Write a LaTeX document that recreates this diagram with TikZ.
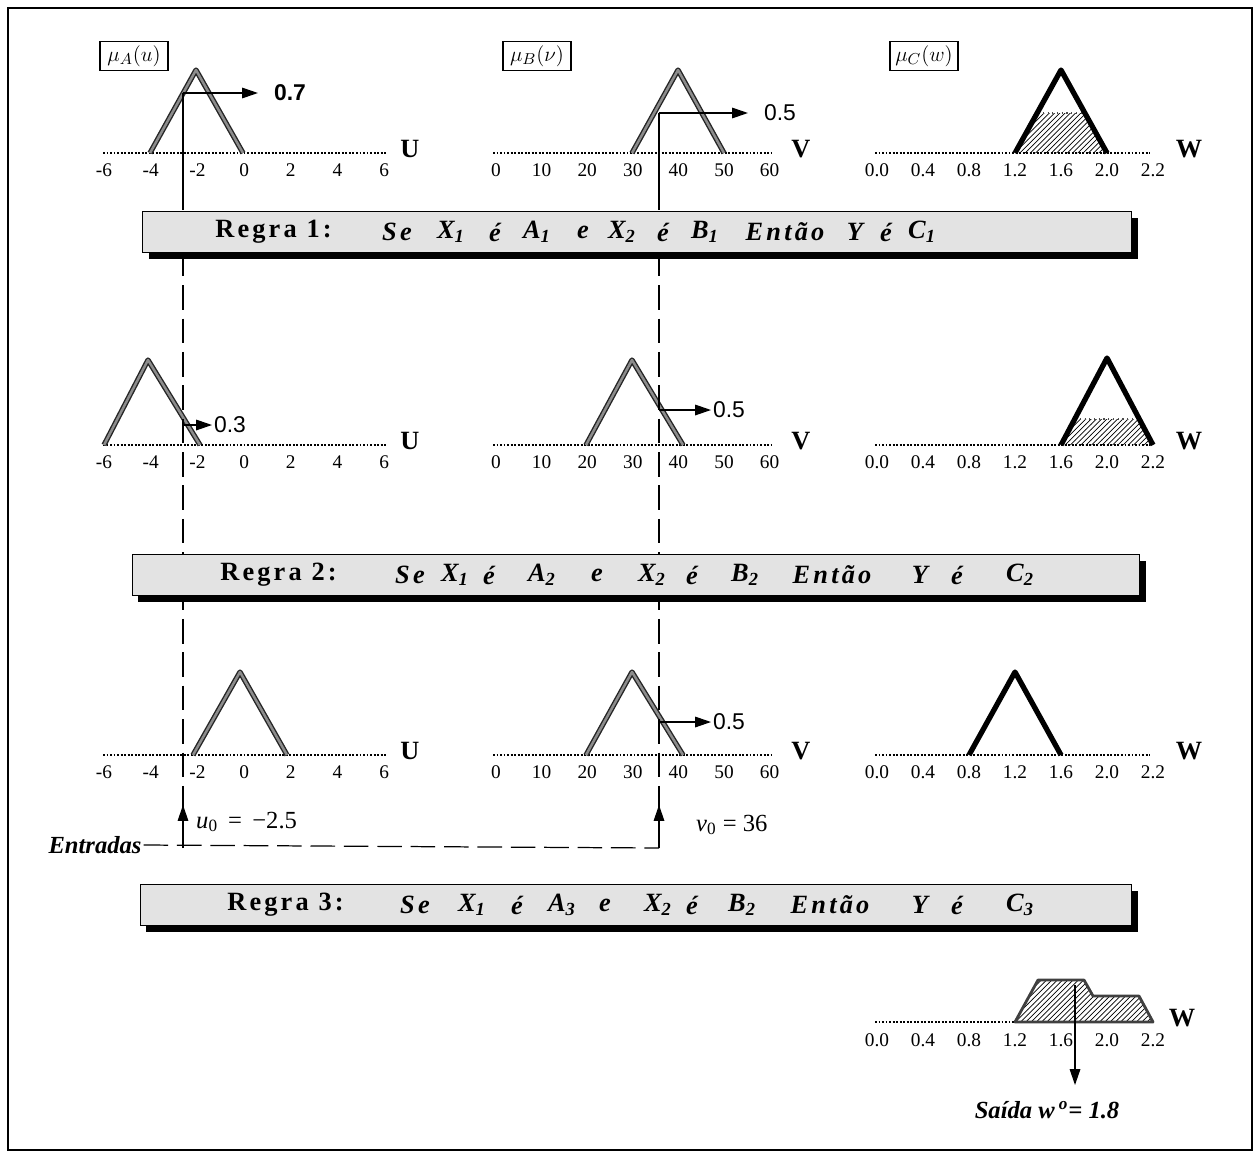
\documentclass[tikz,border=0pt]{standalone}
\usepackage{fontspec}
\setmainfont{Liberation Serif}
\newfontfamily\sansnum{Liberation Sans}
\newfontfamily\regrafont[LetterSpace=12]{Liberation Serif}
\usetikzlibrary{arrows.meta,positioning,calc,patterns,shadows}

\tikzset{
  eixo/.style={line width=0.6pt,dash pattern=on 1.1pt off 0.9pt},
  tick/.style={font=\fontsize{11}{13}\selectfont,inner sep=0pt},
  nomeeixo/.style={font=\fontsize{15}{17}\selectfont\bfseries,inner sep=0pt},
  pertin/.style={draw=black!85,double=black!45,double distance=1.4pt,line width=0.8pt,line join=round},
  pertout/.style={draw=black,line width=3pt,line join=round},
  hachura/.style={pattern=north east lines},
  borda/.style={draw=black!70,line width=0.7pt,dotted},
  mubox/.style={draw,line width=0.6pt,minimum width=1.36cm,minimum height=0.58cm,inner sep=1pt,font=\fontsize{13}{15}\selectfont},
  regra/.style={draw,line width=0.6pt,fill=black!11,minimum height=0.82cm,
    drop shadow={shadow xshift=3.5pt,shadow yshift=-3.5pt,fill=black,opacity=1}},
  palavra/.style={font=\regrafont\fontsize{15}{17}\selectfont\bfseries\itshape,inner sep=0pt},
  titregra/.style={font=\regrafont\fontsize{15}{17}\selectfont\bfseries,inner sep=0pt,anchor=west},
  corte/.style={line width=0.7pt,dash pattern=on 14pt off 5pt},
  fio/.style={line width=0.7pt},
  seta/.style={-{Triangle[length=9pt,width=6pt]},line width=0.7pt},
  nivel/.style={font=\sansnum\fontsize{13}{15}\selectfont,anchor=west,inner sep=1pt},
}

\begin{document}
\begin{tikzpicture}[x=0.02cm,y=-0.02cm]
  \useasboundingbox (0,0) rectangle (1260,1157);
  \draw[line width=1.2pt] (8,8) rectangle (1252,1150);

  % eixos das tres regras
  \foreach \y [count=\r] in {153,445,755} {
    \draw[eixo] (103,\y) -- (386,\y);
    \draw[eixo] (493,\y) -- (772,\y);
    \draw[eixo] (875,\y) -- (1150,\y);
    \foreach \lab [count=\i] in {-6,-4,-2,0,2,4,6}
      \node[tick] (u\r-\i) at ({104+(\i-1)*46.7},\y+17) {\lab};
    \foreach \lab [count=\i] in {0,10,20,30,40,50,60}
      \node[tick] (v\r-\i) at ({496+(\i-1)*45.6},\y+17) {\lab};
    \foreach \lab [count=\i] in {0.0,0.4,0.8,1.2,1.6,2.0,2.2}
      \node[tick] (w\r-\i) at ({877+(\i-1)*46},\y+17) {\lab};
    \node[nomeeixo] (U\r) at (410,\y-4) {U};
    \node[nomeeixo] (V\r) at (801,\y-4) {V};
    \node[nomeeixo] (W\r) at (1189,\y-4) {W};
  }

  \node[mubox] (muA) at (134,56) {$\mu_A(u)$};
  \node[mubox] (muB) at (537,56) {$\mu_B(\nu)$};
  \node[mubox] (muC) at (924,56) {$\mu_C(w)$};

  % regra 1
  \fill[hachura] (1015,153) -- (1038,113) -- (1084,113) -- (1107,153) -- cycle;
  \draw[borda] (1038,113) -- (1084,113);
  \draw[pertin] (150,153) -- (196,70) -- (243,153);
  \draw[pertin] (632,153) -- (678,70) -- (724,153);
  \draw[pertout] (1015,153) -- (1061,70) -- (1107,153);
  % regra 2
  \fill[hachura] (1061,445) -- (1075,419) -- (1139,419) -- (1153,445) -- cycle;
  \draw[borda] (1075,419) -- (1139,419);
  \draw[pertin] (104,445) -- (148,360) -- (200,445);
  \draw[pertin] (586,445) -- (632,360) -- (683,445);
  \draw[pertout] (1061,445) -- (1107,358) -- (1153,445);
  % regra 3
  \draw[pertin] (193,755) -- (240,672) -- (287,755);
  \draw[pertin] (586,755) -- (632,672) -- (683,755);
  \draw[pertout] (969,755) -- (1015,672) -- (1061,755);

  \coordinate (cu1) at (183,93);
  \coordinate (cv1) at (659,113);
  \coordinate (cu2) at (183,425);
  \coordinate (cv2) at (659,410);
  \coordinate (cv3) at (659,722);
  \coordinate (du) at (183,185);
  \coordinate (dv) at (659,185);
  \coordinate (eu) at (183,848);
  \coordinate (ev) at (659,848);
  \coordinate (su) at (183,805);
  \coordinate (sv) at (659,805);

  \draw[fio] (cu1) -- (du);
  \draw[corte] (du) -- (eu);
  \draw[fio] (cv1) -- (dv);
  \draw[corte] (dv) -- (ev);

  \node[nivel,font=\sansnum\bfseries\fontsize{13}{15}\selectfont] (n07) at (272,93) {0.7};
  \node[nivel] (n05a) at (762,113) {0.5};
  \node[nivel] (n03) at (212,425) {0.3};
  \node[nivel] (n05b) at (711,410) {0.5};
  \node[nivel] (n05c) at (711,722) {0.5};
  \draw[seta,shorten >=8pt] (cu1) -- (n07.west);
  \draw[seta,shorten >=8pt] (cv1) -- (n05a.west);
  \draw[seta] (cu2) -- (n03.west);
  \draw[seta] (cv2) -- (n05b.west);
  \draw[seta] (cv3) -- (n05c.west);

  % caixas das regras
  \node[regra,minimum width=19.78cm] (regra1) at (637,232) {};
  \node[regra,minimum width=20.16cm] (regra2) at (636,575) {};
  \node[regra,minimum width=19.84cm] (regra3) at (636,905) {};
  \node[titregra] (t1) at (215,232) {Regra 1:};
  \node[titregra] (t2) at (220,575) {Regra 2:};
  \node[titregra] (t3) at (227,905) {Regra 3:};
  \foreach \w/\x [count=\k] in {Se/397,X\textsubscript{1}/451,é/495,A\textsubscript{1}/537,e/583,
      X\textsubscript{2}/622,é/663,B\textsubscript{1}/705,Então/785,Y/855,é/886,C\textsubscript{1}/922}
    \node[palavra] (p1-\k) at (\x,232) {\w};
  \foreach \w/\x [count=\k] in {Se/410,X\textsubscript{1}/455,é/489,A\textsubscript{2}/542,e/597,
      X\textsubscript{2}/652,é/692,B\textsubscript{2}/745,Então/832,Y/920,é/957,C\textsubscript{2}/1020}
    \node[palavra] (p2-\k) at (\x,575) {\w};
  \foreach \w/\x [count=\k] in {Se/415,X\textsubscript{1}/472,é/517,A\textsubscript{3}/562,e/605,
      X\textsubscript{2}/658,é/692,B\textsubscript{2}/742,Então/830,Y/920,é/957,C\textsubscript{3}/1020}
    \node[palavra] (p3-\k) at (\x,905) {\w};

  % entradas
  \node[font=\fontsize{14}{16}\selectfont\bfseries\itshape,inner sep=1pt] (ent) at (95,845) {Entradas};
  \draw[corte] (ent.east) -- (ev);
  \draw[seta] (eu) -- (su);
  \draw[seta] (ev) -- (sv);
  \node[font=\fontsize{14}{16}\selectfont,anchor=west] (u0) at (190,822) {\textit{u}\textsubscript{0} \,=\, −2.5};
  \node[font=\fontsize{14}{16}\selectfont,anchor=west] (v0) at (690,825) {\textit{v}\textsubscript{0} = 36};

  % saida agregada
  \draw[eixo] (875,1022) -- (1150,1022);
  \foreach \lab [count=\i] in {0.0,0.4,0.8,1.2,1.6,2.0,2.2}
    \node[tick] (w4-\i) at ({877+(\i-1)*46},1040) {\lab};
  \node[nomeeixo] (W4) at (1182,1018) {W};
  \filldraw[pattern=north east lines,draw=black!75,line width=1.6pt,line join=round]
    (1015,1022) -- (1038,980) -- (1084,980) -- (1093,996) -- (1139,996) -- (1153,1022) -- cycle;
  \coordinate (cg) at (1075,985);
  \node[font=\fontsize{14}{16}\selectfont\bfseries\itshape,inner sep=1pt] (saida) at (1047,1110) {Saída w\,\textsuperscript{o}= 1.8};
  \draw[seta,shorten >=8pt] (cg) -- (cg |- saida.north);
\end{tikzpicture}
\end{document}
